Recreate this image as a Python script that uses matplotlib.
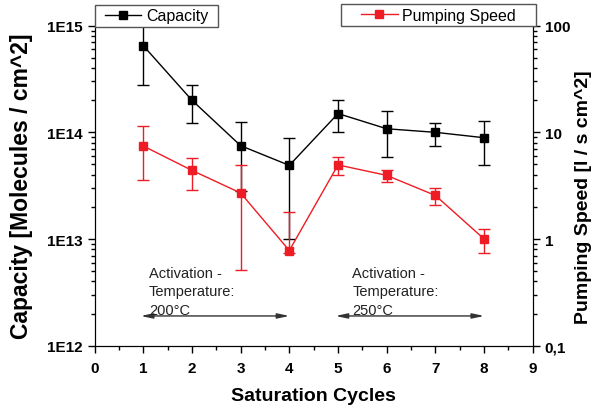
import matplotlib
matplotlib.use("Agg")
import matplotlib.pyplot as plt
import numpy as np
from matplotlib.lines import Line2D
from matplotlib.patches import Rectangle
from matplotlib.ticker import FuncFormatter, NullFormatter, LogLocator, MultipleLocator

plt.rcParams["font.family"] = ["Liberation Sans", "DejaVu Sans"]

cycles = [1, 2, 3, 4, 5, 6, 7, 8]

# capacity [molecules / cm^2] with error bar limits
capacity = [6.5e14, 2.0e14, 7.5e13, 4.9e13, 1.5e14, 1.08e14, 1.0e14, 8.9e13]
cap_hi = [1.0e15, 2.75e14, 1.25e14, 8.9e13, 2.0e14, 1.6e14, 1.23e14, 1.28e14]
cap_lo = [2.8e14, 1.23e14, 2.8e13, 1.0e13, 1.0e14, 5.9e13, 7.4e13, 4.9e13]

# pumping speed [l / s cm^2] with error bar limits
speed = [7.45, 4.4, 2.7, 0.78, 4.95, 3.95, 2.56, 1.0]
spd_hi = [11.4, 5.8, 4.9, 1.78, 5.85, 4.4, 3.0, 1.23]
spd_lo = [3.55, 2.9, 0.51, 0.74, 3.95, 3.45, 2.07, 0.74]

left_labels = {1e12: "1E12", 1e13: "1E13", 1e14: "1E14", 1e15: "1E15"}
right_labels = {0.1: "0,1", 1: "1", 10: "10", 100: "100"}

red = "#ee1c24"

fig = plt.figure(figsize=(5.96, 4.10), dpi=100)
ax = fig.add_axes([0.1586, 0.1544, 0.894 - 0.1586, 0.935 - 0.1544])
ax2 = ax.twinx()

cap = np.array(capacity)
ax.errorbar(cycles, cap, yerr=[cap - np.array(cap_lo), np.array(cap_hi) - cap],
            color="black", marker="s", markersize=5.5, lw=1, elinewidth=1,
            capsize=4, capthick=1, zorder=3)

spd = np.array(speed)
ax2.errorbar(cycles, spd, yerr=[spd - np.array(spd_lo), np.array(spd_hi) - spd],
             color=red, marker="s", markersize=5.5, lw=1, elinewidth=1,
             capsize=4, capthick=1, zorder=3)

ax.set_yscale("log")
ax2.set_yscale("log")
ax.set_ylim(1e12, 1e15)
ax2.set_ylim(0.1, 100)
ax.set_xlim(0, 9)

ax.xaxis.set_major_locator(MultipleLocator(1))
ax.xaxis.set_minor_locator(MultipleLocator(0.5))
for a, labels in ((ax, left_labels), (ax2, right_labels)):
    a.yaxis.set_major_locator(LogLocator(base=10))
    a.yaxis.set_minor_locator(LogLocator(base=10, subs=np.arange(2, 10)))
    a.yaxis.set_minor_formatter(NullFormatter())
    a.yaxis.set_major_formatter(FuncFormatter(lambda v, p, d=labels: d.get(v, "")))
    a.spines["top"].set_visible(False)
    a.tick_params(which="major", direction="out", length=5, width=1,
                  labelsize=11)
    a.tick_params(which="minor", direction="out", length=3, width=1)
    for lab in a.get_xticklabels() + a.get_yticklabels():
        lab.set_fontweight("bold")
ax.tick_params(axis="x", which="major", pad=6)

ax.set_xlabel("Saturation Cycles", fontsize=14, fontweight="bold", labelpad=9)
ax.set_ylabel("Capacity [Molecules / cm^2]", fontsize=16.5, fontweight="bold",
              labelpad=10)
ax2.set_ylabel("Pumping Speed [l / s cm^2]", fontsize=14, fontweight="bold")
ax2.yaxis.set_label_coords(1.097, 0.466)

# activation temperature arrows and notes
arrow = dict(arrowstyle="<|-|>,head_length=0.7,head_width=0.15", color="#333333",
             lw=1, shrinkA=0, shrinkB=0)
ax.annotate("", xy=(0.95, 1.9e12), xytext=(4.0, 1.9e12), arrowprops=arrow)
ax.annotate("", xy=(4.95, 1.9e12), xytext=(8.0, 1.9e12), arrowprops=arrow)
ax.text(1.12, 5.6e12, "Activation -\nTemperature:\n200°C", fontsize=10.5,
        color="#222222", va="top", ha="left", linespacing=1.42)
ax.text(5.29, 5.6e12, "Activation -\nTemperature:\n250°C", fontsize=10.5,
        color="#222222", va="top", ha="left", linespacing=1.42)

# legend boxes above the plot
boxes = [(95, 6, 218, 28), (341, 5, 536, 27)]
entries = [("Capacity", "black"), ("Pumping Speed", red)]
for (x0, y0, x1, y1), (name, col) in zip(boxes, entries):
    bx, by = x0 / 596, 1 - y1 / 410
    bw, bh = (x1 - x0) / 596, (y1 - y0) / 410
    fig.patches.append(Rectangle((bx, by), bw, bh, transform=fig.transFigure,
                                 facecolor="white", edgecolor="#555555", lw=1))
    handle = Line2D([], [], color=col, marker="s", markersize=5.5, lw=1)
    fig.legend([handle], [name], loc="center", bbox_to_anchor=(bx, by, bw, bh),
               bbox_transform=fig.transFigure, frameon=False, fontsize=11.5,
               handlelength=2.3, handletextpad=0.3, borderpad=0, borderaxespad=0)

fig.savefig("out.png", dpi=100)
